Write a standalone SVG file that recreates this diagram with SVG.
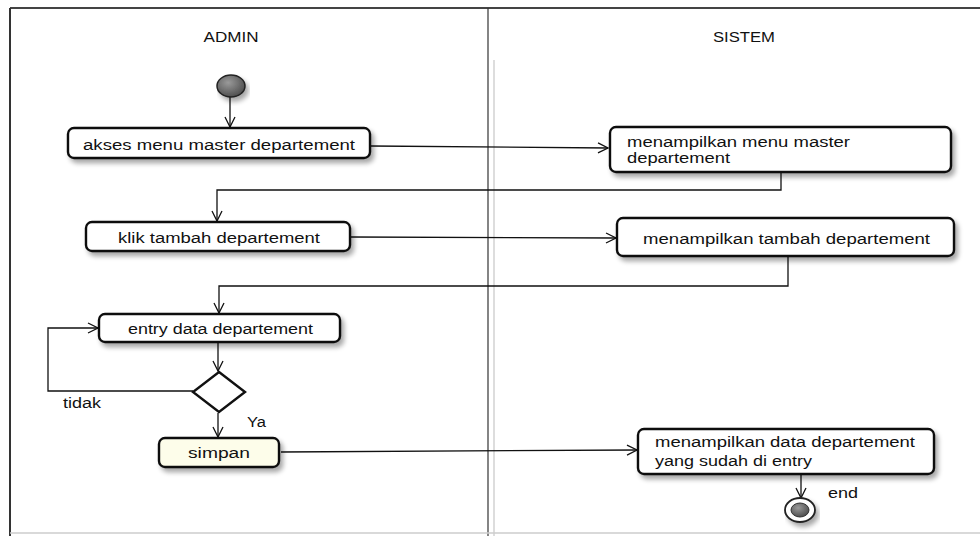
<svg xmlns="http://www.w3.org/2000/svg" width="980" height="536" viewBox="0 0 980 536">
<defs>
<style>
text{font-family:"Liberation Sans",Arial,sans-serif;font-size:14px;fill:#111}
.act{fill:#fff;stroke:#111;stroke-width:2.4}
.con{fill:none;stroke:#111;stroke-width:1.3}
</style>
<marker id="arr" viewBox="0 0 12 12" refX="11" refY="6" markerWidth="12" markerHeight="12" markerUnits="userSpaceOnUse" orient="auto">
<path d="M1,1 L11,6 L1,11" fill="none" stroke="#111" stroke-width="1.3"/>
</marker>
<filter id="sh" x="-10%" y="-30%" width="125%" height="170%">
<feGaussianBlur in="SourceAlpha" stdDeviation="2.5"/>
<feOffset dx="3" dy="4" result="b"/>
<feComponentTransfer><feFuncA type="linear" slope="0.35"/></feComponentTransfer>
<feMerge><feMergeNode/><feMergeNode in="SourceGraphic"/></feMerge>
</filter>
<radialGradient id="gr" cx="40%" cy="35%" r="70%">
<stop offset="0" stop-color="#9a9a9a"/>
<stop offset="1" stop-color="#4a4a4a"/>
</radialGradient>
</defs>
<rect width="980" height="536" fill="#fff"/>
<g id="frame">
<line x1="10" y1="8" x2="980" y2="8" stroke="#444" stroke-width="2"/>
<line x1="10" y1="8" x2="10" y2="536" stroke="#333" stroke-width="2"/>
<line x1="488" y1="8" x2="488" y2="536" stroke="#333" stroke-width="1.2"/>
<line x1="494" y1="60" x2="494" y2="536" stroke="#bbb" stroke-width="1"/>
<line x1="10" y1="533" x2="980" y2="533" stroke="#ccc" stroke-width="1.5"/>
<text x="231" y="42" text-anchor="middle" textLength="55" lengthAdjust="spacingAndGlyphs">ADMIN</text>
<text x="744" y="42" text-anchor="middle" textLength="62" lengthAdjust="spacingAndGlyphs">SISTEM</text>
</g>
<g id="connectors">
<line class="con" x1="230" y1="96" x2="230" y2="127" marker-end="url(#arr)"/>
<line class="con" x1="371" y1="146" x2="608" y2="148" marker-end="url(#arr)"/>
<polyline class="con" points="781,173 781,190 217,190 217,221" marker-end="url(#arr)"/>
<line class="con" x1="351" y1="237" x2="616" y2="238" marker-end="url(#arr)"/>
<polyline class="con" points="788,257 788,286 219,286 219,313" marker-end="url(#arr)"/>
<line class="con" x1="218" y1="343" x2="218" y2="371" marker-end="url(#arr)"/>
<polyline class="con" points="193,391 48,391 48,328 98,328" marker-end="url(#arr)"/>
<line class="con" x1="218" y1="413" x2="218" y2="437" marker-end="url(#arr)"/>
<line class="con" x1="281" y1="452" x2="637" y2="450" marker-end="url(#arr)"/>
<line class="con" x1="801" y1="475" x2="801" y2="498" marker-end="url(#arr)"/>
<text x="63" y="408" textLength="38" lengthAdjust="spacingAndGlyphs">tidak</text>
<text x="247" y="427" textLength="19" lengthAdjust="spacingAndGlyphs">Ya</text>
<text x="828" y="498" textLength="30" lengthAdjust="spacingAndGlyphs">end</text>
</g>
<g id="start">
<ellipse cx="231" cy="86" rx="14" ry="11" fill="url(#gr)" stroke="#222" stroke-width="1.5" filter="url(#sh)"/>
</g>
<g id="a1">
<rect class="act" x="68" y="128" width="302" height="30" rx="6" filter="url(#sh)"/>
<text x="83" y="150" textLength="272" lengthAdjust="spacingAndGlyphs">akses menu master departement</text>
</g>
<g id="a2">
<rect class="act" x="610" y="127" width="341" height="45" rx="6" filter="url(#sh)"/>
<text x="627" y="147" textLength="223" lengthAdjust="spacingAndGlyphs">menampilkan menu master</text>
<text x="627" y="163" textLength="103" lengthAdjust="spacingAndGlyphs">departement</text>
</g>
<g id="a3">
<rect class="act" x="86" y="222" width="264" height="29" rx="6" filter="url(#sh)"/>
<text x="118" y="243" textLength="202" lengthAdjust="spacingAndGlyphs">klik tambah departement</text>
</g>
<g id="a4">
<rect class="act" x="617" y="218" width="337" height="38" rx="6" filter="url(#sh)"/>
<text x="643" y="244" textLength="287" lengthAdjust="spacingAndGlyphs">menampilkan tambah departement</text>
</g>
<g id="a5">
<rect class="act" x="99" y="314" width="241" height="28" rx="6" filter="url(#sh)"/>
<text x="128" y="334" textLength="185" lengthAdjust="spacingAndGlyphs">entry data departement</text>
</g>
<g id="decision">
<polygon points="219,372 245,392 219,412 193,392" fill="#fff" stroke="#111" stroke-width="2.4"/>
</g>
<g id="a6">
<rect class="act" x="159" y="438" width="120" height="29" rx="6" style="fill:#fdfdea" filter="url(#sh)"/>
<text x="188" y="458" textLength="62" lengthAdjust="spacingAndGlyphs">simpan</text>
</g>
<g id="a7">
<rect class="act" x="638" y="429" width="296" height="45" rx="6" filter="url(#sh)"/>
<text x="655" y="447" textLength="260" lengthAdjust="spacingAndGlyphs">menampilkan data departement</text>
<text x="655" y="466" textLength="157" lengthAdjust="spacingAndGlyphs">yang sudah di entry</text>
</g>
<g id="end">
<ellipse cx="800" cy="510" rx="15" ry="12" fill="#fff" stroke="#222" stroke-width="1.8" filter="url(#sh)"/>
<ellipse cx="800" cy="510" rx="9" ry="7" fill="url(#gr)" stroke="#333" stroke-width="1"/>
</g>
</svg>
